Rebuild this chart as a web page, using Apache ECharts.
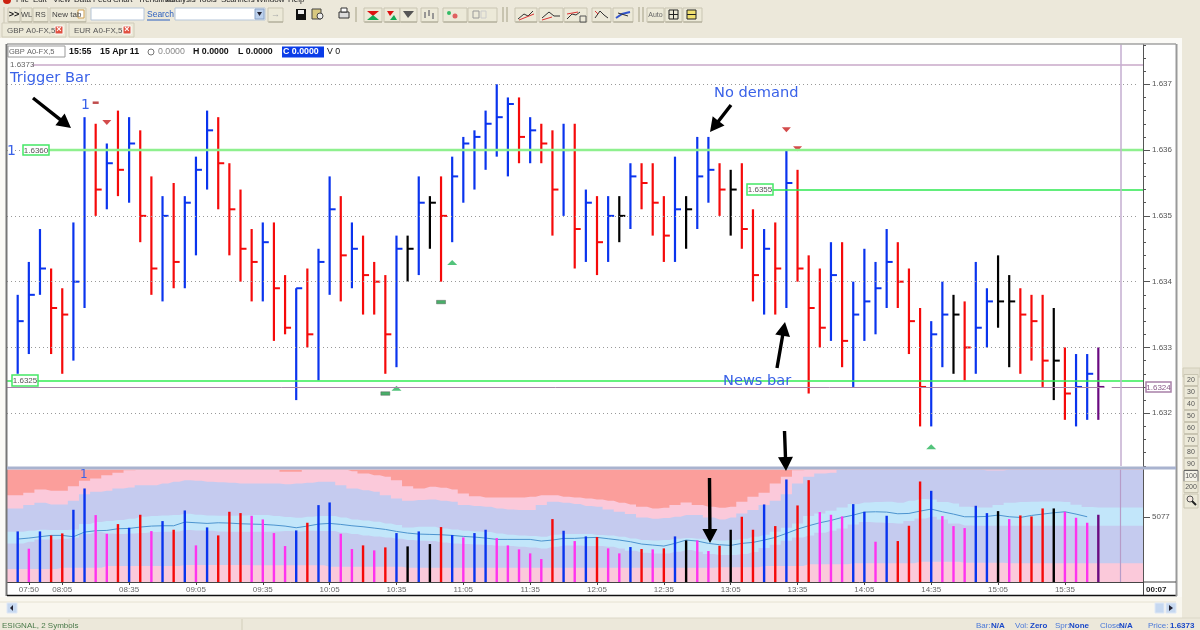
<!DOCTYPE html>
<html><head><meta charset="utf-8">
<script src="https://cdn.jsdelivr.net/npm/echarts@6/dist/echarts.min.js"></script>
<style>html,body{margin:0;padding:0;background:#ece8da}#c{width:1200px;height:630px;filter:blur(0.3px)}</style>
</head><body><div id="c"></div>
<script>
const highs=[1.6338,1.6343,1.6348,1.6342,1.6339,1.6349,1.6365,1.6364,1.6361,1.6366,1.6365,1.6363,1.6356,1.6353,1.6355,1.6353,1.6359,1.6366,1.6365,1.6358,1.6354,1.6348,1.6349,1.6349,1.6341,1.6339,1.6342,1.6345,1.6356,1.6353,1.6349,1.6347,1.6343,1.6341,1.6347,1.6347,1.6356,1.6353,1.6356,1.6359,1.6362,1.6363,1.6366,1.6370,1.6368,1.6368,1.6365,1.6364,1.6363,1.6364,1.6364,1.6354,1.6353,1.6353,1.6353,1.6358,1.6358,1.6358,1.6353,1.6359,1.6353,1.6362,1.6362,1.6358,1.6357,1.6358,1.6351,1.6348,1.6349,1.6360,1.6357,1.6344,1.6342,1.6346,1.6346,1.6340,1.6345,1.6343,1.6348,1.6346,1.6342,1.6336,1.6334,1.6340,1.6338,1.6337,1.6343,1.6339,1.6344,1.6341,1.6339,1.6338,1.6338,1.6336,1.6330,1.6329,1.6329,1.6330];
const lows=[1.6326,1.6329,1.6338,1.6329,1.6326,1.6328,1.6336,1.6350,1.6351,1.6353,1.6352,1.6346,1.6338,1.6337,1.6339,1.6339,1.6344,1.6354,1.6351,1.6344,1.6340,1.6337,1.6337,1.6331,1.6332,1.6322,1.6330,1.6325,1.6338,1.6337,1.6339,1.6335,1.6335,1.6326,1.6327,1.6340,1.6341,1.6345,1.6340,1.6346,1.6352,1.6354,1.6357,1.6359,1.6356,1.6358,1.6358,1.6358,1.6347,1.6350,1.6342,1.6343,1.6341,1.6343,1.6346,1.6348,1.6351,1.6347,1.6343,1.6343,1.6345,1.6348,1.6352,1.6350,1.6347,1.6345,1.6337,1.6335,1.6335,1.6336,1.6340,1.6323,1.6330,1.6331,1.6327,1.6324,1.6331,1.6332,1.6336,1.6336,1.6329,1.6318,1.6318,1.6327,1.6326,1.6325,1.6326,1.6330,1.6333,1.6327,1.6326,1.6328,1.6324,1.6322,1.6319,1.6318,1.6319,1.6319];
const closes=[1.6334,1.6338,1.6342,1.6336,1.6335,1.6340,1.6360,1.6354,1.6358,1.6357,1.6361,1.6350,1.6342,1.6350,1.6343,1.6352,1.6357,1.6363,1.6358,1.6351,1.6345,1.6343,1.6346,1.6339,1.6333,1.6339,1.6332,1.6343,1.6351,1.6344,1.6345,1.6341,1.6340,1.6332,1.6345,1.6345,1.6352,1.6352,1.6350,1.6356,1.6361,1.6362,1.6364,1.6365,1.6367,1.6362,1.6363,1.6361,1.6354,1.6360,1.6348,1.6352,1.6346,1.6350,1.6350,1.6356,1.6355,1.6352,1.6347,1.6351,1.6351,1.6356,1.6357,1.6354,1.6354,1.6348,1.6341,1.6345,1.6342,1.6355,1.6342,1.6336,1.6333,1.6341,1.6331,1.6335,1.6337,1.6339,1.6343,1.6340,1.6334,1.6324,1.6332,1.6335,1.6335,1.6330,1.6333,1.6337,1.6337,1.6337,1.6335,1.6334,1.6328,1.6328,1.6323,1.6324,1.6326,1.6324];
const priceColors="bbbrrbbrbrbrrbrbbbrrrrbrrbrbbrbrrrbkbkrbbbbbbrbrrbrbrbkbrrrbkbbrkrrbrbrrrbrbbbbrrrbbkrbbkkrrrkrbbp".split("");
const volumes=[3952,2600,3952,3640,3796,5642,7306,5226,3770,4524,4238,5252,3978,4758,4082,5590,2860,4264,3640,5486,5382,5174,4888,3822,2808,4030,4628,6006,6214,3770,2574,2860,2470,2704,3822,2782,3952,2964,4290,3666,3484,3822,4082,3432,2860,2548,2236,1794,4914,4004,3198,3562,3510,2626,2236,2730,2574,2548,2626,3562,3250,3250,2418,2834,4082,5096,4082,6058,4368,8008,5980,7956,5460,5252,5122,6084,5486,3146,5174,3198,4394,7852,7124,5148,4368,4212,5954,5382,5538,4914,5200,5122,5746,5746,5486,5018,4628,5252];
const volumeColors="bmbrrbbmmrbrmbrbmbrrrmmmmbrbbmmrmrbkbkrbmbbmmmmmrbmbrmmbrmrbkmmrkrrbrbrrmmmbbmbrrrbmmmbbkmrrrkmmmp".split("");
const bandPinkLow=[1010,1010,1010,1010,1120,1120,1120,1120,1250,1250,1250,1250,1250,1250,1250,1330,1330,1330,1330,1330,1330,1300,1300,1300,1300,1300,1300,1300,1200,1200,1200,1200,1200,1200,1200,1120,1120,1120,1120,1120,1120,1120,1120,1120,1120,1120,1120,1120,1120,1120,1120,1120,1120,1120,1120,1120,1120,1120,1120,1120,1120,1120,1120,1150,1150,1150,1150,1250,1250,1250,1250,1380,1380,1380,1380,1460,1460,1460,1460,1460,1460,1590,1590,1590,1590,1500,1500,1500,1500,1460,1460,1460,1460,1460,1460,1460,1460,1460];
const bandLavLow=[3016,3146,3328,3328,3380,3484,3744,3900,3796,3744,3796,3822,3900,3926,3952,4056,4030,4004,3952,3926,3926,3926,3926,3952,3978,3952,4004,3978,3978,3848,3744,3640,3562,3484,3380,3276,3224,3198,3094,3016,2964,2938,2886,2834,2808,2756,2704,2626,2756,2860,2860,2808,2808,2756,2626,2444,2288,2236,2236,2366,2496,2366,2184,2106,2106,2184,2340,2652,2912,3224,3484,3640,3848,4004,4186,4498,4680,4654,4602,4576,4758,4966,5096,4888,4576,4420,4394,4394,4394,4394,4394,4394,4394,4394,4394,4394,4394,4394];
const bandBlue=[3926,4004,4082,4056,4056,4108,4524,4680,4758,4836,4940,5096,5148,5200,5226,5330,5252,5200,5174,5174,5200,5226,5226,5148,5070,5018,5096,5148,5148,5044,4888,4810,4706,4576,4446,4264,4316,4316,4186,4108,4004,3952,3900,3796,3692,3640,3588,3536,3692,3744,3744,3744,3666,3640,3536,3406,3276,3250,3276,3380,3432,3380,3276,3250,3276,3380,3536,3692,3926,4238,4576,5148,5356,5564,5824,6084,6214,6240,6266,6188,6344,6474,6448,6240,6136,5876,5824,5824,6006,6188,6240,6266,6292,6292,6240,6032,5850,5824];
const bandLavHigh=[5746,6006,6188,6058,6058,6344,6864,7046,7124,7306,7384,7566,7566,7696,7826,7956,7904,7826,7800,7748,7696,7696,7696,7696,7644,7696,7748,7826,7826,7566,7306,7176,7046,6786,6526,6344,6396,6448,6344,6266,6006,5928,5876,5746,5668,5616,5616,6006,6266,6188,6084,5928,5876,5668,5486,5304,5044,4940,4992,5096,5226,5226,5044,4888,5044,5356,5616,6006,6344,6864,7696,8216,8476,8528,8788,8788,8788,8788,8788,8788,8788,8788,8788,8788,8788,8788,8788,8710,8710,8788,8788,8788,8788,8788,8788,8788,8788,8788];
const bandPinkHigh=[6786,6968,7228,7124,7124,7488,7904,8086,8346,8528,8736,8788,8788,8788,8788,8788,8788,8788,8788,8788,8788,8788,8788,8788,8606,8606,8788,8788,8788,8788,8658,8476,8346,8216,7956,7488,7306,7436,7358,7228,6916,6708,6604,6604,6604,6604,6656,6786,6786,6656,6604,6526,6448,6344,6188,6058,5876,5746,5798,6006,6214,6006,5876,5798,5876,6266,6656,6968,7696,8216,8736,8788,8788,8788,8788,8788,8788,8788,8788,8788,8788,8788,8788,8788,8788,8788,8788,8788,8788,8788,8788,8788,8788,8788,8788,8788,8788,8788];
const volumeAverage=[3354,3432,3536,3640,3640,3536,3900,4004,4030,4160,4186,4290,4368,4394,4394,4680,4628,4576,4628,4602,4550,4524,4498,4446,4368,4238,4368,4524,4576,4498,4394,4316,4212,4108,3952,3822,3744,3718,3692,3640,3562,3510,3432,3328,3328,3328,3328,3198,3276,3406,3406,3458,3484,3380,3276,3146,2964,2886,2808,3016,3276,3198,3016,2912,2860,3016,3094,3276,3484,3796,4134,4394,4628,4810,5044,5226,5460,5486,5460,5330,5356,5538,5694,5486,5304,5096,5096,5122,5226,5096,5044,5200,5304,5408,5486,5304,5096];
const timeIndex=[1,4,10,16,22,28,34,40,46,52,58,64,70,76,82,88,94];
const timeLabels=["07:50","08:05","08:35","09:05","09:35","10:05","10:35","11:05","11:35","12:05","12:35","13:05","13:35","14:05","14:35","15:05","15:35"];
const priceLevels=[1.632,1.633,1.634,1.635,1.636,1.637];
const redTriangles=[[8,1.63642],[69,1.63631],[70,1.63602]];
const greenTriangles=[[34,1.63238],[39,1.63429],[82,1.63149]];
const redDashes=[[7,1.63672]];
const greenDashes=[[33,1.6323],[38,1.63369]];

const XMIN=-0.96,XMAX=101.01,VMAX=8788;
const COL={b:'#0a34ee',r:'#f50a0a',k:'#000000',p:'#6a0a80',m:'#ff33ee'};
const FONT='"Liberation Sans",sans-serif',DV='"DejaVu Sans",sans-serif';

const g=[];
const rect=(x,y,w,h,fill,stroke,z,lw)=>g.push({type:'rect',silent:true,z:z==null?-5:z,shape:{x,y,width:w,height:h},style:{fill:fill||'none',stroke:stroke||null,lineWidth:lw||1}});
const txt=(x,y,s,o)=>{o=o||{};g.push({type:'text',silent:true,z:o.z==null?60:o.z,x,y,style:{text:s,fill:o.c||'#333',fontSize:o.s||10,fontFamily:o.f||FONT,fontWeight:o.w||'normal',textAlign:o.a||'left',textVerticalAlign:'middle'}})};
const ln=(x1,y1,x2,y2,c,w,z)=>g.push({type:'line',silent:true,z:z==null?-4:z,shape:{x1,y1,x2,y2},style:{stroke:c,lineWidth:w||1}});
const poly=(pts,c,z)=>g.push({type:'polygon',silent:true,z:z==null?50:z,shape:{points:pts},style:{fill:c}});
const pl=(pts,c,w)=>g.push({type:'polyline',silent:true,z:3,shape:{points:pts},style:{stroke:c,lineWidth:w||1,fill:'none'}});
const arrow=(x1,y1,x2,y2)=>{const d=Math.hypot(x2-x1,y2-y1),u=(x2-x1)/d,v=(y2-y1)/d,nx=-v,ny=u,hl=14,hw=7.5,sw=1.7,bx=x2-u*hl,by=y2-v*hl;
 poly([[x1+nx*sw,y1+ny*sw],[bx+nx*sw,by+ny*sw],[bx+nx*hw,by+ny*hw],[x2,y2],[bx-nx*hw,by-ny*hw],[bx-nx*sw,by-ny*sw],[x1-nx*sw,y1-ny*sw]],'#000',70)};
const btn=(x,w,y,h)=>{rect(x,y||8,w,h||14,'#ece9d8','#c9c5b2',1);ln(x+0.5,(y||8)+(h||14),x+w,(y||8)+(h||14),'#a8a490',1,1);};
const box=(x,y,w,h,s,c,tc)=>{rect(x,y,w,h,'#fff',c,55,1.5);txt(x+w/2,y+h/2+0.5,s,{a:'center',c:tc||'#555',s:8,z:56})};

/* window chrome */
rect(0,38,1182,560,'#fbfaf6',null,-8);
rect(7,44,1169,551,'#ffffff',null,-7);
rect(0,597,1182,21,'#f9f7ef',null,-8);
ln(0,602,1176,602,'#e6e2d2',1,-6);
ln(0,618,1200,618,'#dcd8c8',1,-6);
[['File',16],['Edit',33],['View',53],['Data Feed',74],['Chart',113],['Trendlines',138],['Analysis',166],['Tools',198],['Scanners',221],['Window',256],['Help',288]].forEach(m=>txt(m[1],0,m[0],{s:8,c:'#222'}));
g.push({type:'circle',silent:true,z:3,shape:{cx:7,cy:0,r:4},style:{fill:'#cc2211'}});
ln(4,7,4,23,'#c8c4b0',1,1);
btn(8,12);txt(14,15,'>>',{a:'center',w:'bold',c:'#111',s:9});
btn(21,11);txt(26.5,15,'WL',{a:'center',c:'#444',s:7.5});
btn(33,15);txt(40.5,15,'RS',{a:'center',c:'#444',s:7.5});
btn(50,36);txt(52,15,'New tab',{c:'#444',s:8});
rect(78,10,6,8,'#fff','#d0a050',2);
rect(91,8,53,12,'#fff','#b5c5d8',2);
txt(147,15,'Search',{c:'#2a5fc0',s:8.5});ln(147,20,170,20,'#2a5fc0',1,2);
rect(175,8,90,12,'#fff','#b5c5d8',2);rect(255,9,9,10,'#bcd0ec','#8aa4c8',3);poly([[257,12],[262,12],[259.5,16]],'#223',4);
btn(268,15);txt(275.5,15,'→',{a:'center',c:'#aaa',s:9});
rect(296,9,10,11,'#111',null,3);rect(298,10,6,4,'#eee',null,4);
rect(312,9,9,10,'#d8c880','#444',3);g.push({type:'circle',silent:true,z:4,shape:{cx:320,cy:16,r:3},style:{fill:'#eee',stroke:'#444'}});
rect(339,12,10,6,'#ddd','#333',3);rect(341,8,6,4,'#fff','#333',3);
ln(356,7,356,22,'#c8c4b0',2,1);
btn(364,18);poly([[367,11],[379,11],[373,16]],'#dd1111',3);poly([[367,20],[379,20],[373,15]],'#11aa55',3);
btn(384,16);poly([[387,11],[394,11],[390,16]],'#dd1111',3);poly([[390,20],[397,20],[394,15]],'#11aa55',3);
btn(400,17);poly([[403,11],[414,11],[408,18]],'#555',3);
btn(421,17);pl([[425,12],[425,18]],'#445');pl([[429,10],[429,16]],'#445');pl([[433,13],[433,19]],'#445');
btn(443,24);g.push({type:'circle',silent:true,z:3,shape:{cx:449,cy:13,r:2},style:{fill:'#33bb66'}});g.push({type:'circle',silent:true,z:3,shape:{cx:455,cy:16,r:2.5},style:{fill:'#e06060'}});
btn(468,29);rect(473,11,6,7,'none','#999',3);rect(481,11,5,7,'none','#ccc',3);
ln(503,7,503,22,'#c8c4b0',2,1);ln(507,7,507,22,'#c8c4b0',2,1);
btn(515,22);pl([[518,19],[524,14],[528,16],[533,11]],'#333');pl([[519,20],[534,14]],'#dd3333');
btn(539,24);pl([[542,18],[549,12],[554,16],[560,16]],'#333');pl([[542,20],[552,17]],'#dd3333');
btn(564,23);pl([[567,19],[572,14],[576,15],[580,12]],'#333');pl([[567,14],[578,12]],'#dd3333');rect(580,16,6,6,'#ece9d8','#555',4);
btn(592,19);pl([[595,18],[600,11],[604,15],[608,18]],'#333');pl([[595,11],[598,14]],'#dd3333');
btn(613,20);pl([[616,18],[622,14],[630,12]],'#3355cc',2);pl([[618,13],[628,16]],'#333');
ln(639,7,639,22,'#c8c4b0',2,1);ln(643,7,643,22,'#c8c4b0',2,1);
btn(647,17);txt(655.5,15,'Auto',{a:'center',c:'#666',s:7});
btn(665,17);rect(669,10,9,9,'none','#222',3);ln(669,14.5,678,14.5,'#222',1,3);ln(673.5,10,673.5,19,'#222',1,3);
btn(683,19);rect(687,10,9,9,'#f0e070','#222',3);ln(687,14.5,696,14.5,'#222',1,3);
/* tabs */
rect(2,23,64,14,'#ece9d8','#d0ccba',1);txt(7,30.5,'GBP A0-FX,5',{c:'#555',s:8});rect(55,26,8,8,'#e05040','#fff',2);txt(59,30,'×',{a:'center',c:'#fff',s:9,w:'bold',z:4});
rect(69,23,65,14,'#ece9d8','#d0ccba',1);txt(74,30.5,'EUR A0-FX,5',{c:'#555',s:8});rect(123,26,8,8,'#e05040','#fff',2);txt(127,30,'×',{a:'center',c:'#fff',s:9,w:'bold',z:4});
/* chart header */
rect(8,46,57,11,'#fff','#999',3);txt(9,51.5,'GBP A0-FX,5',{c:'#666',s:7.5});
txt(69,52,'15:55',{c:'#111',s:8.8,w:'bold'});
txt(100,52,'15 Apr 11',{c:'#111',s:8.8,w:'bold'});
g.push({type:'circle',silent:true,z:60,shape:{cx:151,cy:52,r:3},style:{fill:'none',stroke:'#777'}});
txt(158,52,'0.0000',{c:'#888',s:8.8});
txt(193,52,'H 0.0000',{c:'#111',s:8.8,w:'bold'});
txt(238,52,'L 0.0000',{c:'#111',s:8.8,w:'bold'});
rect(282,46.5,42,11,'#0a3ce8',null,3);txt(283,52,'C 0.0000',{c:'#fff',s:8.8,w:'bold'});
txt(327,52,'V 0',{c:'#111',s:8.8});
/* annotations */
txt(10,78,'Trigger Bar',{s:14.6,f:DV,c:'#3a62e8'});
txt(714,93,'No demand',{s:14.6,f:DV,c:'#3a62e8'});
txt(723,381,'News bar',{s:14.6,f:DV,c:'#3a62e8'});
txt(7,151,'1',{s:14,f:DV,c:'#3a62e8'});
txt(81,105,'1',{s:14,f:DV,c:'#3a62e8'});
txt(80,474.5,'1',{s:12,f:DV,c:'#3a62e8'});
arrow(33,98,71,128);
arrow(731,105,710,132);
arrow(777,368,785,322);
arrow(784.5,431,786,471);
arrow(709.5,478,710,543);
/* value boxes */
box(23,145,26,10,'1.6360','#44e866');
box(12,375,26,11,'1.6325','#44e866');
box(747,184,26,11,'1.6355','#44e866');
box(1146,382,25,10,'1.6324','#a880a8','#885a88');
txt(10,64.5,'1.6373',{c:'#666',s:8});
/* frame */
ln(6.5,44,6.5,596,'#777',2,20);
ln(7,44,1176,44,'#777',1.2,20);
ln(7,595.5,1177,595.5,'#111',1.6,20);
ln(1176.5,44,1176.5,596,'#999',2,20);
rect(7,466.6,1136,3,'#a9b3cf',null,20);
rect(1143,466.6,33,3,'#a9b3cf',null,20);
ln(1143.5,582,1143.5,595,'#444',1,20);
ln(1143,582,1176,582,'#444',1,20);
txt(1146,590,'00:07',{s:8,w:'bold',c:'#222'});
/* scrollbars */
rect(7,603,10,10,'#c6d8f0','#dfe8f6',3);poly([[13,605],[13,611],[10,608]],'#223',4);
rect(1155,603,9,10,'#c6d8f0','#dfe8f6',3);rect(1166,603,10,10,'#c6d8f0','#dfe8f6',3);poly([[1169,605],[1169,611],[1173,608]],'#223',4);
/* scale buttons */
rect(1183,368,17,9,'#e4e0d0','#d2ceba',1);
[[20,380],[30,392],[40,404],[50,416],[60,428],[70,440],[80,452],[90,464],[100,476],[200,487]].forEach(b=>{
 const sel=b[0]===100;rect(1184,b[1]-5.5,14,11,sel?'#f4f2e8':'#ece9d8',sel?'#666':'#c9c5b2',2);txt(1191,b[1],String(b[0]),{a:'center',s:7,c:'#555'});});
rect(1184,494,14,14,'#ece9d8','#c9c5b2',2);
g.push({type:'circle',silent:true,z:3,shape:{cx:1190,cy:499,r:3},style:{fill:'#f4e8e0',stroke:'#555'}});ln(1192,501,1196,505,'#222',2,3);
/* status bar */
ln(69,619,69,630,'#d2ceba',1,1);ln(242,619,242,630,'#d2ceba',1,1);
txt(2,626,'ESIGNAL, 2 Symbols',{c:'#4a7a4a',s:8});
[['Bar: ',976,'N/A',991],['Vol: ',1015,'Zero',1030],['Spr: ',1055,'None',1069],['Close:',1100,'N/A',1119],['Price: ',1148,'1.6373',1170]].forEach(s=>{
 txt(s[1],626,s[0],{c:'#4a78d8',s:8});txt(s[3],626,s[2],{c:'#1a48c8',s:8,w:'bold'});});

const idx=a=>a.map((v,i)=>[i,v]);
const barRender=(params,api)=>{
 const i=params.dataIndex,x=api.value(0),t=api.coord([x,api.value(1)]),b=api.coord([x,api.value(2)]),c=api.coord([x,api.value(3)]),col=COL[priceColors[i]];
 return {type:'group',children:[
  {type:'rect',shape:{x:t[0]-1.1,y:t[1],width:2.2,height:b[1]-t[1]},style:{fill:col}},
  {type:'rect',shape:{x:t[0],y:c[1]-1,width:6,height:2},style:{fill:col}}]};
};
const volRender=(params,api)=>{
 const i=params.dataIndex,t=api.coord([api.value(0),api.value(1)]),b=api.coord([api.value(0),0]);
 return {type:'rect',shape:{x:t[0]-1.2,y:t[1],width:2.4,height:b[1]-t[1]},style:{fill:COL[volumeColors[i]]}};
};
const band=(name,arr,color)=>{
 const d=arr.map((v,i)=>[i,v]);d.unshift([XMIN,arr[0]]);d.push([XMAX,arr[arr.length-1]]);
 return {name,type:'line',xAxisIndex:1,yAxisIndex:2,step:'middle',symbol:'none',silent:true,z:1,animation:false,
  lineStyle:{width:0},areaStyle:{color,opacity:1},data:d};
};
const hSeg=(y,x1,x2,color,width)=>[{coord:[x1,y],lineStyle:{color,width,type:'solid'}},{coord:[x2,y]}];

const option={
 animation:false,backgroundColor:'#ece8da',
 grid:[
  {left:7,width:1136,top:44.8,height:421.1,show:false},
  {left:7,width:1136,top:469.5,height:112.5,show:true,backgroundColor:'#fb9e9b',borderWidth:0}
 ],
 xAxis:[
  {type:'value',gridIndex:0,min:XMIN,max:XMAX,show:false},
  {type:'value',gridIndex:1,min:XMIN,max:XMAX,position:'bottom',splitLine:{show:false},
   axisLine:{lineStyle:{color:'#444',width:1},onZero:false},
   axisTick:{customValues:timeIndex,length:3,lineStyle:{color:'#444'}},
   axisLabel:{customValues:timeIndex,formatter:v=>timeLabels[timeIndex.indexOf(Math.round(v))]||'',color:'#666',fontSize:8,fontFamily:FONT,margin:4,hideOverlap:false}}
 ],
 yAxis:[
  {type:'value',gridIndex:0,position:'right',min:1.6312,max:1.6376,interval:0.0002,splitLine:{show:false},
   axisLine:{show:true,onZero:false,lineStyle:{color:'#555',width:1}},axisTick:{show:true,length:3,lineStyle:{color:'#555'}},axisLabel:{show:false}},
  {type:'value',gridIndex:0,position:'right',min:1.6312,max:1.6376,splitLine:{show:false},
   axisLine:{show:false,onZero:false},axisTick:{show:true,customValues:priceLevels,length:7,lineStyle:{color:'#555'}},
   axisLabel:{customValues:priceLevels,formatter:v=>v.toFixed(3),color:'#555',fontSize:8,fontFamily:FONT,margin:9}},
  {type:'value',gridIndex:1,position:'right',min:0,max:VMAX,splitLine:{show:false},
   axisLine:{show:true,onZero:false,lineStyle:{color:'#555',width:1}},axisTick:{show:true,customValues:[5077],length:7,lineStyle:{color:'#555'}},
   axisLabel:{customValues:[5077],formatter:v=>String(v),color:'#555',fontSize:8,fontFamily:FONT,margin:9}}
 ],
 series:[
  {name:'levels',type:'line',xAxisIndex:0,yAxisIndex:0,data:[],silent:true,z:1,
   markLine:{silent:true,symbol:'none',animation:false,label:{show:false},
    data:[].concat(
     priceLevels.map(p=>hSeg(p,XMIN,100.4,'#999',1)).map(s=>{s[0].lineStyle.type=[1,3];return s}),
     [hSeg(1.6373,1.3,XMAX,'#c8a8c8',1.5),hSeg(1.636,2.8,XMAX,'#8ef08e',2.4),hSeg(1.6354,65.5,XMAX,'#2ee850',1.7),
      hSeg(1.6325,XMIN,XMAX,'#33ee55',1.5),hSeg(1.6324,XMIN,97.5,'#a884a8',1),hSeg(1.6324,98.2,XMAX,'#a884a8',1),
      [{coord:[99,1.6312],lineStyle:{color:'#c4aed0',width:1.5,type:'solid'}},{coord:[99,1.6376]}]])}},
  {name:'price',type:'custom',xAxisIndex:0,yAxisIndex:0,z:3,renderItem:barRender,encode:{x:0,y:[1,2,3]},
   data:highs.map((h,i)=>[i,h,lows[i],closes[i]])},
  {name:'redTriangles',type:'scatter',xAxisIndex:0,yAxisIndex:0,z:4,symbol:'triangle',symbolRotate:180,symbolSize:[9,5],itemStyle:{color:'#c81e1e'},data:redTriangles},
  {name:'greenTriangles',type:'scatter',xAxisIndex:0,yAxisIndex:0,z:4,symbol:'triangle',symbolSize:[10,5],itemStyle:{color:'#28b45a'},data:greenTriangles},
  {name:'redDashes',type:'scatter',xAxisIndex:0,yAxisIndex:0,z:4,symbol:'rect',symbolSize:[6,2.5],itemStyle:{color:'#b02020'},data:redDashes},
  {name:'greenDashes',type:'scatter',xAxisIndex:0,yAxisIndex:0,z:4,symbol:'rect',symbolSize:[9,3.5],itemStyle:{color:'#1a9a44',borderColor:'#555',borderWidth:0.5},data:greenDashes},
  band('pinkHigh',bandPinkHigh,'#fbc9da'),
  band('lavHigh',bandLavHigh,'#c5cbef'),
  band('blue',bandBlue,'#c2e6fa'),
  band('lavLow',bandLavLow,'#c5cbef'),
  band('pinkLow',bandPinkLow,'#fbc9da'),
  {name:'average',type:'line',xAxisIndex:1,yAxisIndex:2,symbol:'none',z:3,silent:true,lineStyle:{color:'#4c94cf',width:1},data:idx(volumeAverage)},
  {name:'volume',type:'custom',xAxisIndex:1,yAxisIndex:2,z:4,renderItem:volRender,encode:{x:0,y:1},data:idx(volumes)},
  {name:'cursor',type:'line',xAxisIndex:1,yAxisIndex:2,data:[],silent:true,z:3,
   markLine:{silent:true,symbol:'none',animation:false,label:{show:false},data:[[{coord:[99,0],lineStyle:{color:'#b79cc8',width:1.2,type:'solid'}},{coord:[99,VMAX]}]]}}
 ],
 graphic:{elements:g}
};
const chart=echarts.init(document.getElementById('c'),null,{renderer:'canvas'});
chart.setOption(option);
</script></body></html>
